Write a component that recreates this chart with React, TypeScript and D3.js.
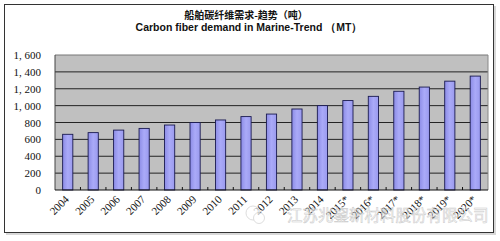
import React from "react";
import * as d3 from "d3";

// Marine carbon fiber demand by year, metric tons
const years = ["2004", "2005", "2006", "2007", "2008", "2009", "2010", "2011", "2012", "2013", "2014", "2015*", "2016*", "2017*", "2018*", "2019*", "2020*"];
const demand = [660, 680, 710, 730, 770, 800, 830, 870, 900, 960, 1000, 1060, 1110, 1170, 1220, 1290, 1350];
const yTicks = [0, 200, 400, 600, 800, 1000, 1200, 1400, 1600];
const titleCn = "船舶碳纤维需求-趋势（吨）";
const titleEn = "Carbon fiber demand in Marine-Trend （MT）";
const watermark = "江苏兆鋆新材料股份有限公司";

const W = 500;
const H = 241;
const plot = { left: 55, right: 488, top: 55, bottom: 190 };

const fmt = (v: number) => (v >= 1000 ? d3.format(",")(v).replace(",", ", ") : String(v));

export default function App() {
  const x = d3.scaleBand<string>().domain(years).range([plot.left, plot.right]).paddingInner(0.6).paddingOuter(0.3);
  const xStep = d3.scaleBand<string>().domain(years).range([plot.left, plot.right]).padding(0);
  const y = d3.scaleLinear().domain([0, 1600]).range([plot.bottom, plot.top]);

  return (
    <svg width={W} height={H} style={{ position: "absolute", left: 0, top: 0, background: "#fff" }}>
      <defs>
        <linearGradient id="barFill" x1="0" x2="1" y1="0" y2="0">
          <stop offset="0" stopColor="#8c8ce6" />
          <stop offset="0.5" stopColor="#aaaaf8" />
          <stop offset="1" stopColor="#9a9aee" />
        </linearGradient>
      </defs>
      <rect x={0} y={0} width={W} height={H} fill="#fff" />
      <rect x={6} y={6} width={490} height={229} fill="#d8d8d8" />
      <rect x={4.5} y={4.5} width={489} height={228} fill="#fff" stroke="#333" strokeWidth={1} />

      <text x={246} y={19} textAnchor="middle" fontFamily="'Noto Sans CJK SC'" fontWeight="bold" fontSize={10} fill="#111">
        {titleCn}
      </text>
      <text x={249} y={31} textAnchor="middle" fontFamily="'Liberation Sans', Arial" fontWeight="bold" fontSize={10.5} fill="#111">
        {titleEn}
      </text>

      <rect x={plot.left} y={plot.top} width={plot.right - plot.left} height={plot.bottom - plot.top} fill="#c0c0c0" />
      {yTicks.filter((t) => t > 0).map((t) => (
        <line key={t} x1={plot.left} x2={plot.right} y1={y(t)} y2={y(t)} stroke={t === 1600 ? "#777" : "#111"} strokeWidth={t === 1600 ? 1 : 0.9} />
      ))}
      <line x1={plot.right} x2={plot.right} y1={plot.top} y2={plot.bottom} stroke="#888" />
      <line x1={plot.left} x2={plot.left} y1={plot.top} y2={plot.bottom} stroke="#444" />

      {years.map((yr, i) => (
        <rect key={yr} x={x(yr)} y={y(demand[i])} width={x.bandwidth()} height={plot.bottom - y(demand[i])} fill="url(#barFill)" stroke="#1a1a50" strokeWidth={0.9} />
      ))}

      <line x1={plot.left} x2={plot.right} y1={plot.bottom} y2={plot.bottom} stroke="#111" strokeWidth={1.2} />
      {years.slice(1).map((yr) => (
        <line key={yr} x1={xStep(yr)} x2={xStep(yr)} y1={plot.bottom} y2={plot.bottom - 3} stroke="#111" />
      ))}

      {yTicks.map((t) => (
        <text key={t} x={41} y={y(t) + 4} textAnchor="end" fontFamily="'Liberation Serif', serif" fontSize={11} fill="#111">
          {fmt(t)}
        </text>
      ))}

      {years.map((yr) => {
        const cx = (x(yr) as number) + x.bandwidth() / 2 + 2;
        const cy = 200;
        return (
          <text key={yr} x={cx} y={cy} textAnchor="end" transform={`rotate(-45 ${cx} ${cy})`} fontFamily="'Liberation Serif', serif" fontSize={11} fill="#111">
            {yr}
          </text>
        );
      })}

      <g opacity={0.7}>
        <circle cx={253} cy={213} r={7} fill="#fff" stroke="#c4c4c4" strokeWidth={0.8} />
        <circle cx={259} cy={218} r={5.5} fill="#fff" stroke="#c4c4c4" strokeWidth={0.8} />
        <text x={287} y={221} fontFamily="'Noto Sans CJK SC'" fontSize={15.5} fill="#f8f8f8" stroke="#b4b4b4" strokeWidth={0.5}>
          {watermark}
        </text>
      </g>
    </svg>
  );
}
